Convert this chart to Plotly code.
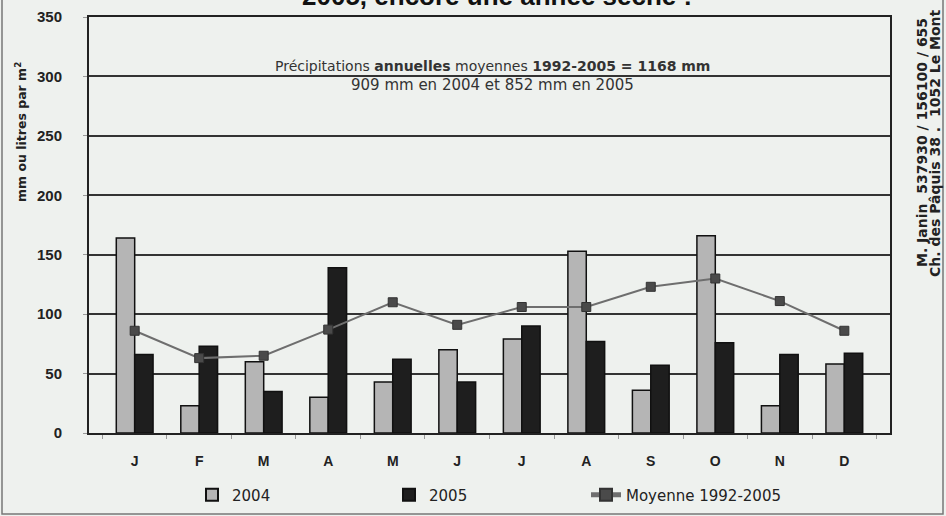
import plotly.graph_objects as go

months = ["J", "F", "M", "A", "M", "J", "J", "A", "S", "O", "N", "D"]
month_keys = [f"m{i}" for i in range(12)]
rain_2004 = [164, 23, 60, 30, 43, 70, 79, 153, 36, 166, 23, 58]
rain_2005 = [66, 73, 35, 139, 62, 43, 90, 77, 57, 76, 66, 67]
moyenne = [86, 63, 65, 87, 110, 91, 106, 106, 123, 130, 111, 86]
y_ticks = [0, 50, 100, 150, 200, 250, 300, 350]

BG = "#eef1ee"
FONT = "Liberation Sans"
DJ = "DejaVu Sans"

fig = go.Figure()
fig.add_trace(go.Bar(
    x=month_keys, y=rain_2004, name="2004",
    marker=dict(color="#b5b5b5", line=dict(color="#111111", width=1.5)),
))
fig.add_trace(go.Bar(
    x=month_keys, y=rain_2005, name="2005",
    marker=dict(color="#1e1e1e", line=dict(color="#111111", width=1.5)),
))
fig.add_trace(go.Scatter(
    x=month_keys, y=moyenne, name="Moyenne 1992-2005", mode="lines+markers",
    line=dict(color="#6e6e6e", width=2),
    marker=dict(symbol="square", size=9, color="#4a4a4a", line=dict(color="#333333", width=1)),
))

fig.update_layout(
    width=946, height=516,
    margin=dict(l=89, r=56, t=17, b=83, autoexpand=False),
    paper_bgcolor=BG, plot_bgcolor=BG,
    barmode="group", bargap=0.43, bargroupgap=0,
    font=dict(family=FONT, color="#222222"),
    showlegend=True,
    legend=dict(
        orientation="h", x=(192 - 89) / 801, xanchor="left", y=(433 - 495) / 416, yanchor="middle",
        bgcolor="rgba(0,0,0,0)", font=dict(size=15, family=DJ, color="#222222"),
        entrywidth=152, itemsizing="constant",
    ),
    xaxis=dict(
        tickmode="array", tickvals=month_keys, ticktext=months,
        tickfont=dict(size=14, family=FONT, color="#222222", weight="bold"),
        showline=True, linecolor="#222222", linewidth=2, mirror=True,
        ticks="outside", tickson="boundaries", ticklen=4, tickcolor="#999999",
        showgrid=False, ticklabelstandoff=14,
    ),
    yaxis=dict(
        range=[0, 350], tickmode="array", tickvals=y_ticks,
        tickfont=dict(size=15, family="Liberation Sans Narrow, " + FONT, color="#222222", weight="bold"),
        showline=True, linecolor="#222222", linewidth=2, mirror=True,
        showgrid=True, gridcolor="#333333", gridwidth=2,
        ticks="outside", ticklen=4, tickcolor="#999999",
        zeroline=False, ticklabelstandoff=18,
    ),
)

annotations = [
    dict(text="<b>2005, encore une année sèche !</b>", xref="paper", yref="paper",
         x=(497 - 89) / 801, y=(433 - 13) / 416, xanchor="center", yanchor="bottom",
         showarrow=False, font=dict(size=26, family=FONT, color="#111111")),
    dict(text="Précipitations <b>annuelles</b> moyennes <b>1992-2005 = 1168 mm</b>",
         xref="paper", yref="paper", x=(492 - 89) / 801, y=(433 - 66) / 416,
         xanchor="center", yanchor="middle", showarrow=False,
         font=dict(size=14, family=DJ, color="#333333")),
    dict(text="909 mm en 2004 et 852 mm en 2005",
         xref="paper", yref="paper", x=(492 - 89) / 801, y=(433 - 85) / 416,
         xanchor="center", yanchor="middle", showarrow=False,
         font=dict(size=15, family=DJ, color="#333333")),
    dict(text="<b>mm ou litres par m<sup>2</sup></b>", xref="paper", yref="paper",
         x=(21 - 89) / 801, y=(433 - 132) / 416, xanchor="center", yanchor="middle",
         textangle=-90, showarrow=False, font=dict(size=12.5, family=DJ, color="#222222")),
    dict(text="<b>M. Janin  537930 / 156100 / 655</b>", xref="paper", yref="paper",
         x=(922 - 89) / 801, y=(433 - 143) / 416, xanchor="center", yanchor="middle",
         textangle=-90, showarrow=False, font=dict(size=14, family=DJ, color="#222222")),
    dict(text="<b>Ch. des Pâquis 38 .  1052 Le Mont</b>", xref="paper", yref="paper",
         x=(935 - 89) / 801, y=(433 - 143) / 416, xanchor="center", yanchor="middle",
         textangle=-90, showarrow=False, font=dict(size=14, family=DJ, color="#222222")),
]
fig.update_layout(annotations=annotations)

fig.add_shape(type="rect", xref="paper", yref="paper",
              x0=(2 - 89) / 801, x1=(943 - 89) / 801,
              y0=(433 - 514) / 416, y1=(433 + 20) / 416,
              line=dict(color="#777777", width=1.5), fillcolor="rgba(0,0,0,0)", layer="below")

fig.write_html(
    "out.html",
    config={"displayModeBar": False},
    post_script="document.body.style.margin='0';document.body.style.overflow='hidden';",
)
